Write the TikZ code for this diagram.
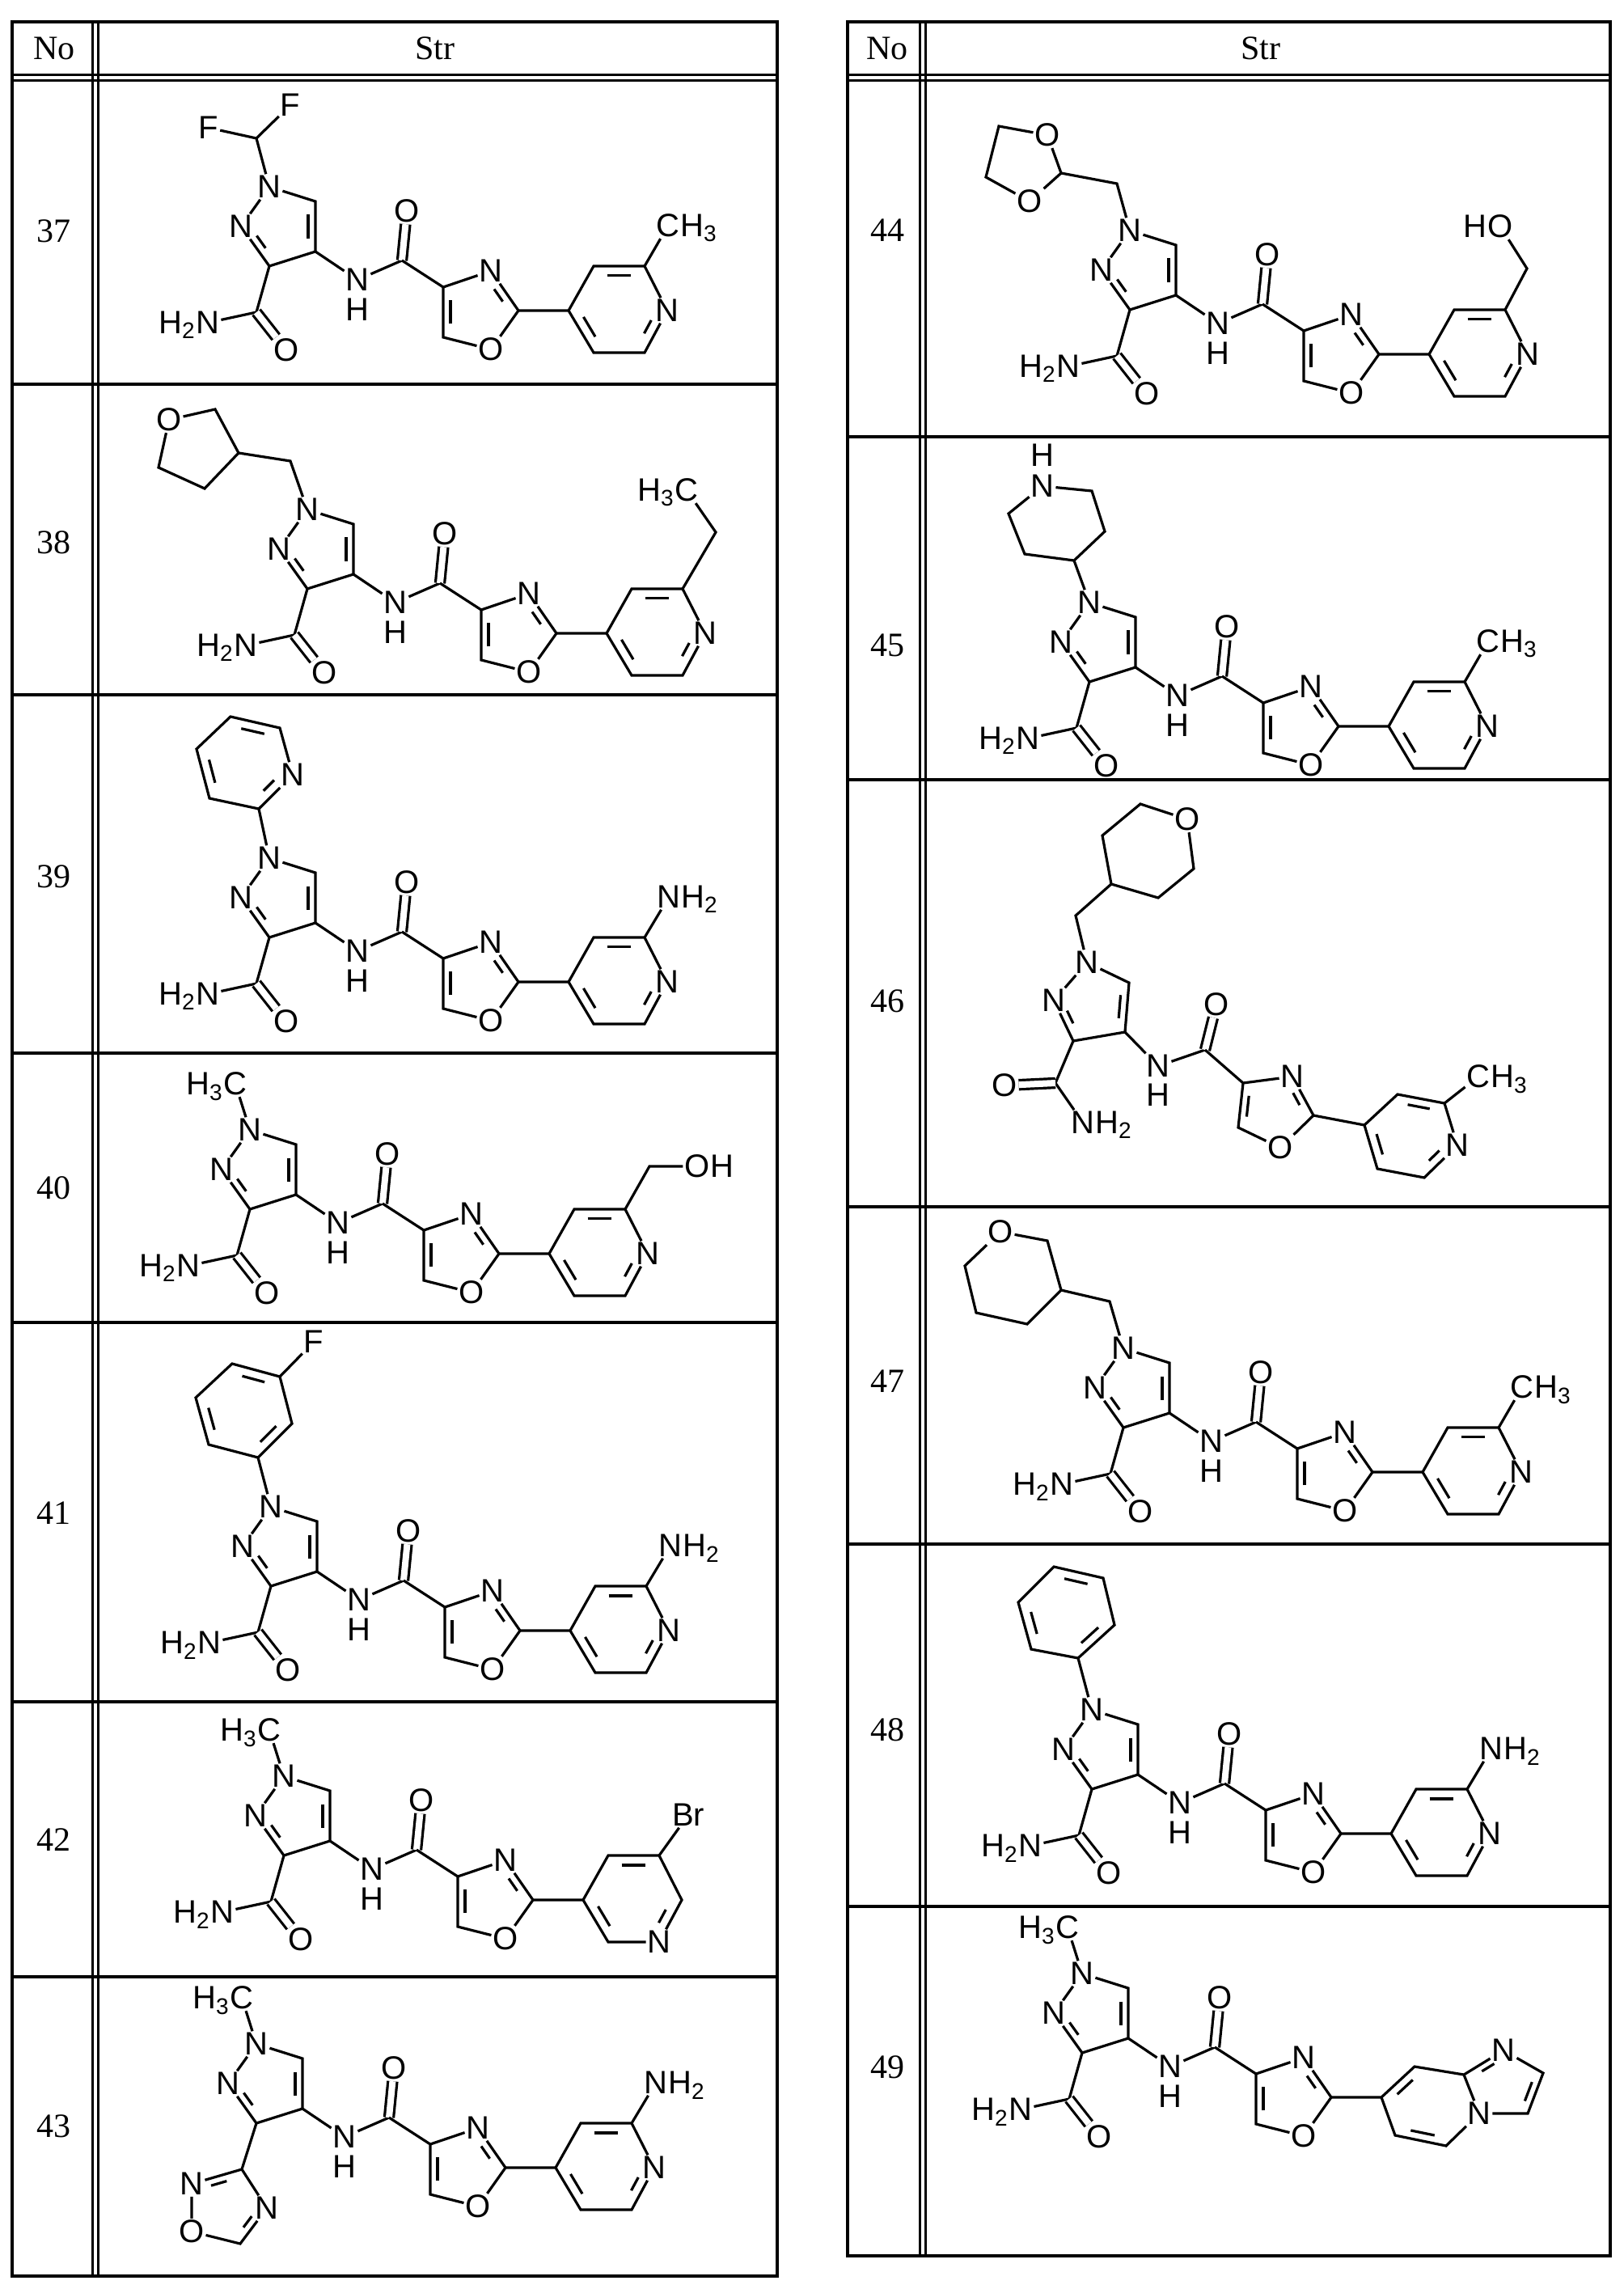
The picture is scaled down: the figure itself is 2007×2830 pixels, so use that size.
\documentclass[tikz,border=0pt]{standalone}
\usepackage{fontspec}
\setmainfont{Liberation Serif}
\newfontfamily\arialf{Liberation Sans}
\usetikzlibrary{calc}
\tikzset{
 atom/.style={font=\arialf\fontsize{20}{21}\selectfont, inner sep=0.8pt},
 hlab/.style={font=\arialf\fontsize{20}{21}\selectfont, inner sep=0pt},
 bond/.style={line width=1.6pt},
 dbl/.style={line width=1.6pt, double, double distance=4pt},
 tline/.style={line width=2.3pt},
 tthin/.style={line width=1.5pt},
 num/.style={font=\fontsize{21}{24}\selectfont}
}
\newcommand\ib[4][0.2]{\draw[bond] ($($(#2)!#1!(#3)$)!0.22!(#4)$) -- ($($(#3)!#1!(#2)$)!0.22!(#4)$);}
\newcommand\hl[2]{\node[hlab,anchor=base east] at ([xshift=0.8pt]#1.base west) {#2};}
\newcommand\hr[2]{\node[hlab,anchor=base west] at ([xshift=-0.8pt]#1.base east) {#2};}
\newcommand\core{%
 \node[atom] (n1) at (0,0) {N};
 \coordinate (c5) at (57,18); \coordinate (c4) at (57,80); \coordinate (c3) at (0,98);
 \node[atom] (n2) at (-35,49) {N}; \coordinate (pzc) at (16,49);
 \draw[bond] (n1)--(c5)--(c4)--(c3)--(n2)--(n1);
 \ib{c5}{c4}{pzc} \ib[0.3]{c3}{n2}{pzc}
 \node[atom] (nh) at (109,115) {N}; \node[atom] at (109,152) {H};
 \coordinate (cc) at (164,91); \node[atom] (co) at (170,30) {O};
 \draw[bond] (c4)--(nh)--(cc); \draw[dbl] (cc)--(co);
 \coordinate (x4) at (215,124); \node[atom] (x3) at (274,104) {N};
 \coordinate (x2) at (308,153); \node[atom] (x1) at (274,201) {O};
 \coordinate (x5) at (215,186); \coordinate (oxc) at (256,154);
 \draw[bond] (cc)--(x4)--(x3)--(x2)--(x1)--(x5)--(x4);
 \ib[0.3]{x3}{x2}{oxc} \ib{x5}{x4}{oxc}}
\newcommand\carbox{%
 \coordinate (ac) at (-16,155); \node[atom] (an) at (-76,168) {N}; \hl{an}{H\textsubscript{2}}
 \node[atom] (ao) at (21,202) {O};
 \draw[bond] (c3)--(ac)--(an); \draw[dbl] (ac)--(ao);}
\newcommand\pyring{%
 \coordinate (p4) at (370,153); \coordinate (p3) at (401,98); \coordinate (p2) at (464,98);
 \node[atom] (pn) at (492,153) {N};
 \coordinate (p6) at (464,205); \coordinate (p5) at (401,205); \coordinate (pyc) at (432,152);
 \draw[bond] (x2)--(p4)--(p3)--(p2)--(pn)--(p6)--(p5)--(p4);
 \ib{p3}{p2}{pyc} \ib[0.3]{pn}{p6}{pyc} \ib{p5}{p4}{pyc}}
\newcommand\pme{\node[atom] (s) at (493,48) {C}; \hr{s}{H\textsubscript{3}} \draw[bond] (p2)--(s);}
\newcommand\pnh{\node[atom] (s) at (494,48) {N}; \hr{s}{H\textsubscript{2}} \draw[bond] (p2)--(s);}
\newcommand\nme{\node[atom] (m) at (-18,-57) {C}; \hl{m}{H\textsubscript{3}} \draw[bond] (n1)--(m);}
\begin{document}
\begin{tikzpicture}[x=0.5pt,y=-0.5pt]
\useasboundingbox (0,0) rectangle (2007,2830);
% ---- tables ----
\draw[tline] (15,27) rectangle (961,2814);
\draw[tthin] (114,27)--(114,2814) (121,27)--(121,2814);
\draw[tthin] (15,93)--(961,93) (15,100)--(961,100);
\foreach \yy in {475,859,1302,1635,2104,2444} \draw[tline] (15,\yy)--(961,\yy);
\draw[tline] (1048,27) rectangle (1991,2789);
\draw[tthin] (1137,27)--(1137,2789) (1144,27)--(1144,2789);
\draw[tthin] (1048,93)--(1991,93) (1048,100)--(1991,100);
\foreach \yy in {540,964,1492,1909,2357} \draw[tline] (1048,\yy)--(1991,\yy);
\node[num] (h1) at (67,60) {No}; \node[num] (h2) at (538,60) {Str};
\node[num] (h3) at (1097,60) {No}; \node[num] (h4) at (1559,60) {Str};
\node[num] (r37) at (67,286) {37}; \node[num] (r38) at (67,671) {38};
\node[num] (r39) at (67,1084) {39}; \node[num] (r40) at (67,1469) {40};
\node[num] (r41) at (67,1871) {41}; \node[num] (r42) at (67,2275) {42};
\node[num] (r43) at (67,2629) {43};
\node[num] (r44) at (1097,285) {44}; \node[num] (r45) at (1097,798) {45};
\node[num] (r46) at (1097,1238) {46}; \node[num] (r47) at (1097,1708) {47};
\node[num] (r48) at (1097,2139) {48}; \node[num] (r49) at (1097,2556) {49};
% ---- 37 ----
\begin{scope}[shift={(333,231)}]
 \core \carbox \pyring \pme
 \coordinate (f0) at (-16,-60); \node[atom] (f1) at (-75,-73) {F}; \node[atom] (f2) at (26,-101) {F};
 \draw[bond] (n1)--(f0)--(f1); \draw[bond] (f0)--(f2);
\end{scope}
% ---- 38 ----
\begin{scope}[shift={(380,630)}]
 \core \carbox \pyring
 \coordinate (e1) at (505,28); \node[atom] (e2) at (469,-24) {C}; \hl{e2}{H\textsubscript{3}}
 \draw[bond] (p2)--(e1)--(e2);
 \coordinate (m1) at (-21,-60); \coordinate (t3) at (-85,-70); \coordinate (t2) at (-114,-124);
 \node[atom] (to) at (-171,-111) {O}; \coordinate (t5) at (-184,-52); \coordinate (t4) at (-127,-26);
 \draw[bond] (n1)--(m1)--(t3)--(t2)--(to)--(t5)--(t4)--(t3);
\end{scope}
% ---- 39 ----
\begin{scope}[shift={(333,1061)}]
 \core \carbox \pyring \pnh
 \coordinate (a1) at (-13,-61); \node[atom] (an2) at (29,-103) {N}; \coordinate (a6) at (13,-161);
 \coordinate (a5) at (-48,-175); \coordinate (a4) at (-90,-135); \coordinate (a3) at (-74,-74);
 \coordinate (ac0) at (-31,-118);
 \draw[bond] (n1)--(a1)--(an2)--(a6)--(a5)--(a4)--(a3)--(a1);
 \ib[0.3]{a1}{an2}{ac0} \ib{a6}{a5}{ac0} \ib{a4}{a3}{ac0}
\end{scope}
% ---- 40 ----
\begin{scope}[shift={(309,1397)}]
 \core \carbox \pyring \nme
 \coordinate (h1c) at (494,45); \node[atom] (oh) at (553,45) {O}; \hr{oh}{H}
 \draw[bond] (p2)--(h1c)--(oh);
\end{scope}
% ---- 41 ----
\begin{scope}[shift={(335,1863)}]
 \core \carbox \pyring \pnh
 \coordinate (b1) at (-16,-61); \coordinate (b2) at (26,-103); \coordinate (b3) at (11,-161);
 \coordinate (b4) at (-48,-177); \coordinate (b5) at (-93,-135); \coordinate (b6) at (-77,-77);
 \coordinate (bc) at (-33,-119); \node[atom] (bf) at (53,-204) {F};
 \draw[bond] (n1)--(b1)--(b2)--(b3)--(b4)--(b5)--(b6)--(b1); \draw[bond] (b3)--(bf);
 \ib{b1}{b2}{bc} \ib{b3}{b4}{bc} \ib{b5}{b6}{bc}
\end{scope}
% ---- 42 ----
\begin{scope}[shift={(351,2196)}]
 \core \carbox \nme
 \coordinate (p4) at (370,153); \coordinate (p3) at (401,98); \coordinate (p2) at (464,98);
 \coordinate (pr) at (492,153); \node[atom] (pn) at (464,205) {N};
 \coordinate (p5) at (401,205); \coordinate (pyc) at (432,152);
 \draw[bond] (x2)--(p4)--(p3)--(p2)--(pr)--(pn)--(p5)--(p4);
 \ib{p3}{p2}{pyc} \ib[0.3]{pr}{pn}{pyc} \ib{p5}{p4}{pyc}
 \node[atom] (br) at (500,48) {Br}; \draw[bond] (p2)--(br);
\end{scope}
% ---- 43 ----
\begin{scope}[shift={(317,2527)}]
 \core \pyring \pnh \nme
 \coordinate (oc) at (-18,155); \node[atom] (on2) at (-80,173) {N}; \node[atom] (oo) at (-80,232) {O};
 \coordinate (oc5) at (-20,247); \node[atom] (on4) at (13,203) {N}; \coordinate (odc) at (-37,202);
 \draw[bond] (c3)--(oc)--(on2)--(oo)--(oc5)--(on4)--(oc);
 \ib[0.3]{oc}{on2}{odc} \ib[0.3]{oc5}{on4}{odc}
\end{scope}
% ---- 44 ----
\begin{scope}[shift={(1397,285)}]
 \core \carbox \pyring
 \coordinate (h1c) at (491,47); \node[atom] (ho) at (458,-5) {O}; \hl{ho}{H}
 \draw[bond] (p2)--(h1c)--(ho);
 \coordinate (m1) at (-16,-58); \coordinate (d2) at (-85,-71); \node[atom] (do3) at (-102,-118) {O};
 \coordinate (d4) at (-162,-129); \coordinate (d5) at (-178,-66); \node[atom] (do1) at (-124,-36) {O};
 \draw[bond] (n1)--(m1)--(d2)--(do3)--(d4)--(d5)--(do1)--(d2);
\end{scope}
% ---- 45 ----
\begin{scope}[shift={(1347,745)}]
 \core \carbox \pyring \pme
 \coordinate (q4) at (-19,-52); \coordinate (q3) at (19,-88); \coordinate (q2) at (3,-138);
 \node[atom] (qn) at (-58,-144) {N}; \node[atom] (qh) at (-58,-182) {H};
 \coordinate (q6) at (-100,-110); \coordinate (q5) at (-80,-60);
 \draw[bond] (n1)--(q4)--(q3)--(q2)--(qn)--(q6)--(q5)--(q4);
\end{scope}
% ---- 46 ----
\begin{scope}[shift={(1344,1190)}]
 \node[atom] (n1) at (0,0) {N};
 \coordinate (c5) at (52,25); \coordinate (c4) at (47,86); \coordinate (c3) at (-17,97);
 \node[atom] (n2) at (-41,47) {N}; \coordinate (pzc) at (8,51);
 \draw[bond] (n1)--(c5)--(c4)--(c3)--(n2)--(n1);
 \ib{c5}{c4}{pzc} \ib[0.3]{c3}{n2}{pzc}
 \coordinate (ac) at (-39,149); \node[atom] (ao) at (-102,152) {O};
 \node[atom] (an) at (-5,198) {N}; \hr{an}{H\textsubscript{2}}
 \draw[bond] (c3)--(ac)--(an); \draw[dbl] (ac)--(ao);
 \node[atom] (nh) at (88,128) {N}; \node[atom] at (88,164) {H};
 \coordinate (cc) at (146,108); \node[atom] (co) at (160,52) {O};
 \draw[bond] (c4)--(nh)--(cc); \draw[dbl] (cc)--(co);
 \coordinate (x4) at (193,149); \node[atom] (x3) at (254,141) {N};
 \coordinate (x2) at (280,189); \node[atom] (x1) at (239,229) {O};
 \coordinate (x5) at (187,204); \coordinate (oxc) at (230,182);
 \draw[bond] (cc)--(x4)--(x3)--(x2)--(x1)--(x5)--(x4);
 \ib[0.3]{x3}{x2}{oxc} \ib{x5}{x4}{oxc}
 \coordinate (p4) at (343,201); \coordinate (p3) at (384,163); \coordinate (p2) at (442,174);
 \node[atom] (pn) at (458,226) {N}; \coordinate (p6) at (417,266); \coordinate (p5) at (359,255);
 \coordinate (pyc) at (400,213);
 \draw[bond] (x2)--(p4)--(p3)--(p2)--(pn)--(p6)--(p5)--(p4);
 \ib{p3}{p2}{pyc} \ib[0.3]{pn}{p6}{pyc} \ib{p5}{p4}{pyc}
 \node[atom] (s) at (484,141) {C}; \hr{s}{H\textsubscript{3}}
 \draw[bond] (p2)--(s);
 \coordinate (m1) at (-14,-58); \coordinate (t4) at (30,-97); \coordinate (t3) at (19,-157);
 \coordinate (t2) at (66,-196); \node[atom] (to) at (124,-177) {O}; \coordinate (t6) at (132,-116);
 \coordinate (t5) at (88,-80);
 \draw[bond] (n1)--(m1)--(t4)--(t3)--(t2)--(to)--(t6)--(t5)--(t4);
\end{scope}
% ---- 47 ----
\begin{scope}[shift={(1389,1667)}]
 \core \carbox \pyring \pme
 \coordinate (m1) at (-17,-58); \coordinate (r3) at (-77,-72); \coordinate (r2) at (-94,-133);
 \node[atom] (ro) at (-152,-144) {O}; \coordinate (r6) at (-196,-102); \coordinate (r5) at (-182,-44);
 \coordinate (r4) at (-119,-30);
 \draw[bond] (n1)--(m1)--(r3)--(r2)--(ro)--(r6)--(r5)--(r4)--(r3);
\end{scope}
% ---- 48 ----
\begin{scope}[shift={(1350,2114)}]
 \core \carbox \pyring \pnh
 \coordinate (b1) at (-17,-64); \coordinate (b2) at (28,-105); \coordinate (b3) at (14,-163);
 \coordinate (b4) at (-47,-177); \coordinate (b5) at (-91,-133); \coordinate (b6) at (-75,-75);
 \coordinate (bc) at (-31,-120);
 \draw[bond] (n1)--(b1)--(b2)--(b3)--(b4)--(b5)--(b6)--(b1);
 \ib{b1}{b2}{bc} \ib{b3}{b4}{bc} \ib{b5}{b6}{bc}
\end{scope}
% ---- 49 ----
\begin{scope}[shift={(1338,2440)}]
 \core \carbox \nme
 \coordinate (i7) at (370,153); \coordinate (i8) at (411,115); \coordinate (i8a) at (472,125);
 \node[atom] (inm) at (521,95) {N}; \coordinate (i2) at (570,123); \coordinate (i3) at (551,173);
 \node[atom] (in4) at (491,173) {N}; \coordinate (i5) at (450,213); \coordinate (i6) at (387,200);
 \coordinate (i6c) at (430,163); \coordinate (i5c) at (521,138);
 \draw[bond] (x2)--(i7)--(i8)--(i8a)--(inm)--(i2)--(i3)--(in4)--(i8a);
 \draw[bond] (in4)--(i5)--(i6)--(i7);
 \ib{i7}{i8}{i6c} \ib[0.3]{i8a}{inm}{i5c} \ib{i2}{i3}{i5c} \ib{i5}{i6}{i6c}
\end{scope}
\end{tikzpicture}
\end{document}
